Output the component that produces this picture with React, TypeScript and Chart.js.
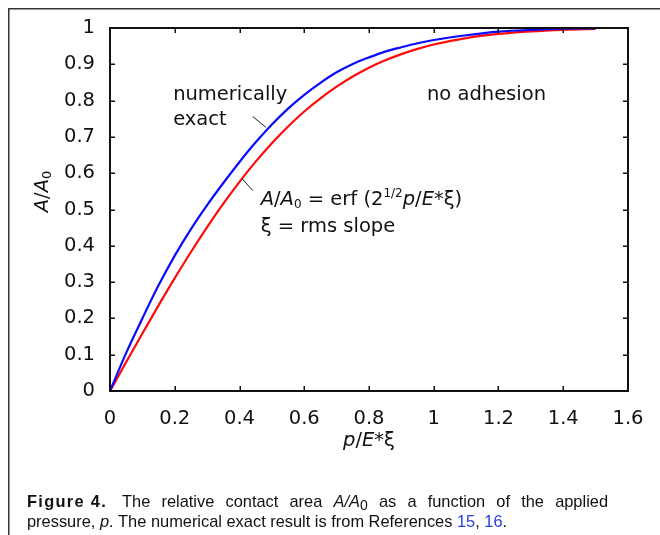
import React, { useEffect, useRef } from 'react';
import { Chart, registerables } from 'chart.js';

Chart.register(...registerables);

// Normalised pressure p/E*ξ
const pressure = [
  0, 0.05, 0.1, 0.15, 0.2, 0.25, 0.3, 0.35, 0.4, 0.45, 0.5, 0.55, 0.6, 0.65,
  0.7, 0.75, 0.8, 0.85, 0.9, 0.95, 1.0, 1.1, 1.2, 1.3, 1.4, 1.5,
];

// Relative contact area, numerically exact result (blue)
const exactArea = [
  0, 0.105, 0.2, 0.291, 0.373, 0.446, 0.512, 0.573, 0.631, 0.685, 0.734, 0.778,
  0.816, 0.849, 0.878, 0.901, 0.919, 0.935, 0.947, 0.958, 0.967, 0.98, 0.99,
  0.995, 0.998, 0.999,
];

// Relative contact area, A/A0 = erf(2^(1/2) p/E*ξ) (red)
const erfArea = [
  0, 0.0797, 0.1585, 0.2358, 0.3108, 0.3829, 0.4515, 0.5161, 0.5763, 0.6319,
  0.6827, 0.7287, 0.7699, 0.8064, 0.8385, 0.8664, 0.8904, 0.9109, 0.9281,
  0.9426, 0.9545, 0.9722, 0.9836, 0.9907, 0.9949, 0.9973,
];

const xTickLabels = ['0', '0.2', '0.4', '0.6', '0.8', '1', '1.2', '1.4', '1.6'];
const yTickLabels = ['0', '0.1', '0.2', '0.3', '0.4', '0.5', '0.6', '0.7', '0.8', '0.9', '1'];

const FONT = '"DejaVu Sans", sans-serif';
const CAP_FONT = '"Liberation Sans", Arial, sans-serif';
const INK = '#111';
const BASE = 19.5;

type Seg = {
  t: string;
  it?: boolean;
  b?: boolean;
  size?: number;
  dy?: number;
  color?: string;
  spacing?: number;
};

function segFont(s: Seg, base: number, fam: string) {
  return `${s.it ? 'italic ' : ''}${s.b ? 'bold ' : ''}${s.size ?? base}px ${fam}`;
}

function applySeg(ctx: any, s: Seg, base: number, fam: string) {
  ctx.font = segFont(s, base, fam);
  if ('letterSpacing' in ctx) ctx.letterSpacing = `${s.spacing ?? 0}px`;
}

function measureSegs(ctx: CanvasRenderingContext2D, segs: Seg[], base: number, fam: string) {
  let w = 0;
  for (const s of segs) {
    applySeg(ctx, s, base, fam);
    w += ctx.measureText(s.t).width;
  }
  return w;
}

function drawSegs(
  ctx: CanvasRenderingContext2D,
  x: number,
  y: number,
  segs: Seg[],
  base: number,
  fam: string,
  align: 'left' | 'center' | 'right' = 'left',
) {
  const w = measureSegs(ctx, segs, base, fam);
  let cx = align === 'center' ? x - w / 2 : align === 'right' ? x - w : x;
  ctx.textAlign = 'left';
  ctx.textBaseline = 'alphabetic';
  for (const s of segs) {
    applySeg(ctx, s, base, fam);
    ctx.fillStyle = s.color ?? INK;
    ctx.fillText(s.t, cx, y + (s.dy ?? 0));
    cx += ctx.measureText(s.t).width;
  }
  applySeg(ctx, { t: '' }, base, fam);
  return w;
}

// Text labels placed in data coordinates (x = p/E*ξ, y = A/A0, at the text baseline)
const textLabels: { x: number; y: number; segs: Seg[] }[] = [
  { x: 0.195, y: 0.802, segs: [{ t: 'numerically' }] },
  { x: 0.195, y: 0.733, segs: [{ t: 'exact' }] },
  { x: 0.979, y: 0.802, segs: [{ t: 'no adhesion' }] },
  {
    x: 0.4655,
    y: 0.512,
    segs: [
      { t: 'A', it: true },
      { t: '/' },
      { t: 'A', it: true },
      { t: '0', size: 12, dy: 3 },
      { t: ' = erf (2' },
      { t: '1/2', size: 12, dy: -8 },
      { t: 'p', it: true },
      { t: '/' },
      { t: 'E', it: true },
      { t: '*ξ)' },
    ],
  },
  { x: 0.4655, y: 0.439, segs: [{ t: 'ξ = rms slope' }] },
];

// Leader lines from the labels to the curves, in data coordinates
const leaders = [
  { x1: 0.441, y1: 0.756, x2: 0.482, y2: 0.726 },
  { x1: 0.407, y1: 0.586, x2: 0.441, y2: 0.552 },
];

const figurePlugin = {
  id: 'figureDecor',
  beforeDraw(chart: any) {
    const { ctx, width, height } = chart;
    ctx.save();
    ctx.fillStyle = '#fff';
    ctx.fillRect(0, 0, width, height);
    ctx.restore();
  },
  afterDraw(chart: any) {
    const { ctx, chartArea: a, scales } = chart;
    const xs = scales.x;
    const ys = scales.y;
    ctx.save();

    // outer figure frame (top and left edges)
    ctx.strokeStyle = '#333';
    ctx.lineWidth = 1.5;
    ctx.beginPath();
    ctx.moveTo(8.75, 535);
    ctx.lineTo(8.75, 8.75);
    ctx.lineTo(660, 8.75);
    ctx.stroke();

    // plot box
    ctx.strokeStyle = '#111';
    ctx.lineWidth = 2;
    ctx.strokeRect(a.left, a.top, a.right - a.left, a.bottom - a.top);

    // inward tick marks on all four sides
    ctx.lineWidth = 1.5;
    ctx.beginPath();
    for (const t of xs.ticks) {
      const px = Math.round(xs.getPixelForValue(t.value)) + 0.25;
      ctx.moveTo(px, a.bottom);
      ctx.lineTo(px, a.bottom - 5);
      ctx.moveTo(px, a.top);
      ctx.lineTo(px, a.top + 5);
    }
    for (const t of ys.ticks) {
      const py = Math.round(ys.getPixelForValue(t.value)) + 0.25;
      ctx.moveTo(a.left, py);
      ctx.lineTo(a.left + 5, py);
      ctx.moveTo(a.right, py);
      ctx.lineTo(a.right - 5, py);
    }
    ctx.stroke();

    // leader lines
    ctx.strokeStyle = '#222';
    ctx.lineWidth = 1;
    ctx.beginPath();
    for (const l of leaders) {
      ctx.moveTo(xs.getPixelForValue(l.x1), ys.getPixelForValue(l.y1));
      ctx.lineTo(xs.getPixelForValue(l.x2), ys.getPixelForValue(l.y2));
    }
    ctx.stroke();

    // in-plot labels
    for (const lab of textLabels) {
      drawSegs(ctx, xs.getPixelForValue(lab.x), ys.getPixelForValue(lab.y), lab.segs, BASE, FONT);
    }

    // x axis title
    drawSegs(
      ctx,
      (a.left + a.right) / 2,
      446,
      [{ t: 'p', it: true }, { t: '/' }, { t: 'E', it: true }, { t: '*ξ' }],
      BASE,
      FONT,
      'center',
    );

    // y axis title
    ctx.save();
    ctx.translate(48, 191.5);
    ctx.rotate(-Math.PI / 2);
    drawSegs(
      ctx,
      0,
      0,
      [{ t: 'A', it: true }, { t: '/' }, { t: 'A', it: true }, { t: '0', size: 13, dy: 3 }],
      BASE,
      FONT,
      'center',
    );
    ctx.restore();

    // caption
    const cs = 16.4;
    const blue = '#2740df';
    drawSegs(ctx, 27, 506.5, [{ t: 'Figure 4.', b: true, spacing: 1.3 }], cs, CAP_FONT);
    const words: Seg[][] = [
      [{ t: 'The' }],
      [{ t: 'relative' }],
      [{ t: 'contact' }],
      [{ t: 'area' }],
      [{ t: 'A', it: true }, { t: '/', it: true }, { t: 'A', it: true }, { t: '0', size: 14, dy: 3 }],
      [{ t: 'as' }],
      [{ t: 'a' }],
      [{ t: 'function' }],
      [{ t: 'of' }],
      [{ t: 'the' }],
      [{ t: 'applied' }],
    ];
    const startX = 122;
    const endX = 608;
    const widths = words.map((w) => measureSegs(ctx, w, cs, CAP_FONT));
    const total = widths.reduce((s, v) => s + v, 0);
    const gap = (endX - startX - total) / (words.length - 1);
    let wx = startX;
    words.forEach((w, i) => {
      drawSegs(ctx, wx, 506.5, w, cs, CAP_FONT);
      wx += widths[i] + gap;
    });
    drawSegs(
      ctx,
      27,
      526.5,
      [
        { t: 'pressure, ' },
        { t: 'p', it: true },
        { t: '. The numerical exact result is from References ' },
        { t: '15', color: blue },
        { t: ', ' },
        { t: '16', color: blue },
        { t: '.' },
      ],
      cs,
      CAP_FONT,
    );

    ctx.restore();
  },
};

export default function App() {
  const canvasRef = useRef<HTMLCanvasElement | null>(null);

  useEffect(() => {
    const canvas = canvasRef.current;
    if (!canvas) return;
    const chart = new Chart(canvas, {
      type: 'scatter',
      data: {
        datasets: [
          {
            label: 'numerically exact',
            data: pressure.map((x, i) => ({ x, y: exactArea[i] })),
            showLine: true,
            borderColor: 'rgb(10,10,255)',
            borderWidth: 2.2,
            pointRadius: 0,
            cubicInterpolationMode: 'monotone',
            clip: false,
          },
          {
            label: 'erf',
            data: pressure.map((x, i) => ({ x, y: erfArea[i] })),
            showLine: true,
            borderColor: 'rgb(255,10,10)',
            borderWidth: 2.2,
            pointRadius: 0,
            cubicInterpolationMode: 'monotone',
            clip: false,
          },
        ],
      },
      options: {
        animation: false,
        responsive: false,
        devicePixelRatio: 1,
        layout: { padding: { left: 0, top: 28, right: 32, bottom: 94 } },
        plugins: { legend: { display: false }, tooltip: { enabled: false } },
        scales: {
          x: {
            type: 'linear',
            min: 0,
            max: 1.6,
            afterBuildTicks: (s: any) => {
              s.ticks = xTickLabels.map((l) => ({ value: parseFloat(l) }));
            },
            afterFit: (s: any) => {
              s.height = 50;
            },
            grid: { display: false, drawTicks: false },
            border: { display: false },
            ticks: {
              autoSkip: false,
              maxRotation: 0,
              padding: 16,
              color: INK,
              font: { family: 'DejaVu Sans', size: BASE },
              callback: (_v: any, i: number) => xTickLabels[i],
            },
          },
          y: {
            type: 'linear',
            min: 0,
            max: 1,
            afterBuildTicks: (s: any) => {
              s.ticks = yTickLabels.map((l) => ({ value: parseFloat(l) }));
            },
            afterFit: (s: any) => {
              s.width = 110;
            },
            grid: { display: false, drawTicks: false },
            border: { display: false },
            ticks: {
              autoSkip: false,
              padding: 15,
              color: INK,
              font: { family: 'DejaVu Sans', size: BASE },
              callback: (_v: any, i: number) => yTickLabels[i],
            },
          },
        },
      } as any,
      plugins: [figurePlugin],
    });
    return () => chart.destroy();
  }, []);

  return (
    <div style={{ position: 'absolute', left: 0, top: 0, width: 660, height: 535, background: '#fff' }}>
      <canvas ref={canvasRef} width={660} height={535} style={{ display: 'block' }} />
    </div>
  );
}
